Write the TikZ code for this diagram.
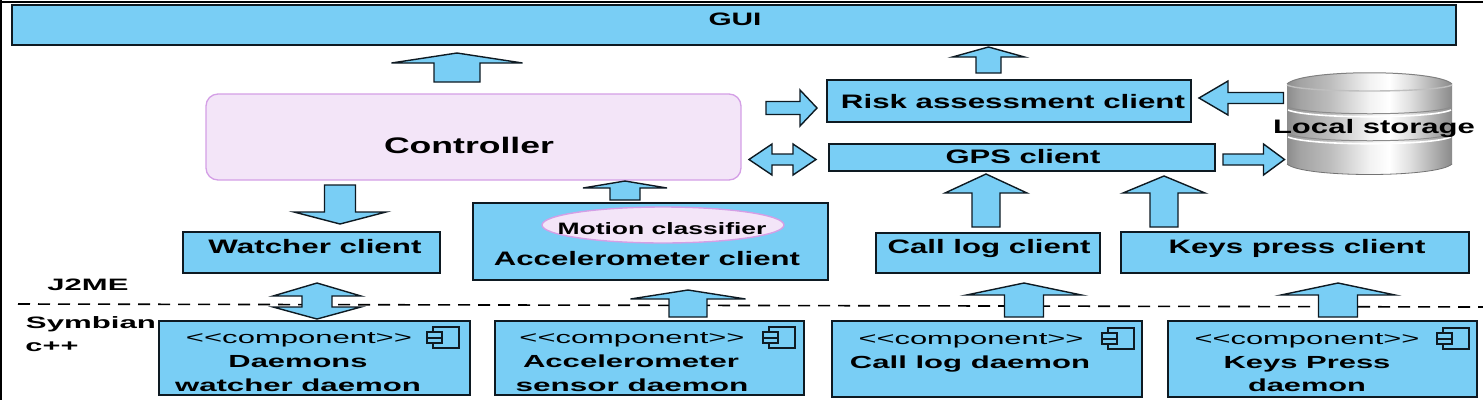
\documentclass[tikz,border=0pt]{standalone}
\usepackage{graphicx}
\usepackage{fontspec}
\setmainfont{Liberation Sans}
\usetikzlibrary{calc,shapes.geometric}
\definecolor{boxblue}{HTML}{79CEF5}
\definecolor{ink}{HTML}{0E1A22}
\definecolor{ctrlfill}{HTML}{F3E5F8}
\definecolor{ctrledge}{HTML}{D49FE6}
\pgfdeclarehorizontalshading{metal}{100bp}{color(0bp)=(black!42);color(25bp)=(black!45);color(29bp)=(black!36);color(38bp)=(black!26);color(50bp)=(black!5);color(56bp)=(white);color(62bp)=(black!12);color(69bp)=(black!30);color(75bp)=(black!46);color(100bp)=(black!46)}
\tikzset{
  boxstyle/.style={draw=ink,fill=boxblue,line width=1.3pt,inner sep=0pt,outer sep=0pt},
  ctrlstyle/.style={draw=ctrledge,fill=ctrlfill,line width=1.3pt,rounded corners=12pt,inner sep=0pt,outer sep=0pt},
  ovalstyle/.style={ellipse,draw=ctrledge,fill=ctrlfill,line width=1.4pt,inner sep=0pt,outer sep=0pt},
  hiddenstyle/.style={inner sep=0pt,outer sep=0pt},
  blockstyle/.style={draw=ink,fill=boxblue,line width=1.4pt,line join=miter},
  labelstyle/.style={inner sep=0pt,outer sep=0pt,anchor=base,text=black},
  iconstyle/.style={draw=ink,line width=1.1pt,fill=boxblue},
  dashstyle/.style={draw=black,line width=1.6pt,dash pattern=on 12pt off 8pt}
}
\newcommand\bx[6]{\node[#1,minimum width={(#5-#3)*1pt},minimum height={(#6-#4)*1pt}] (#2) at ({(#3+#5)/2},{(#4+#6)/2}) {};}
\newcommand\lb[6]{\node[labelstyle] (#1) at (#2,#3) {\resizebox{#4pt}{\height}{\fontsize{#5}{#5}\selectfont\bfseries #6}};}
\newcommand\lr[6]{\node[labelstyle] (#1) at (#2,#3) {\resizebox{#4pt}{\height}{\fontsize{#5}{#5}\selectfont #6}};}
\newcommand\blockar[5]{\coordinate (h) at ($(#2)!#3pt!(#1)$);
  \draw[blockstyle] ($(#1)!#5pt!90:(#2)$) -- ($(h)!#5pt!90:(#2)$) -- ($(h)!#4pt!90:(#2)$) -- (#2) -- ($(h)!#4pt!-90:(#2)$) -- ($(h)!#5pt!-90:(#2)$) -- ($(#1)!#5pt!-90:(#2)$) -- cycle;}
\newcommand\dblockar[6]{\coordinate (h) at ($(#2)!#3pt!(#1)$);\coordinate (k) at ($(#1)!#4pt!(#2)$);
  \draw[blockstyle] (#1) -- ($(k)!#5pt!90:(#2)$) -- ($(k)!#6pt!90:(#2)$) -- ($(h)!#6pt!90:(#2)$) -- ($(h)!#5pt!90:(#2)$) -- (#2) -- ($(h)!#5pt!-90:(#2)$) -- ($(h)!#6pt!-90:(#2)$) -- ($(k)!#6pt!-90:(#2)$) -- ($(k)!#5pt!-90:(#2)$) -- cycle;}
\newcommand\vblock[8]{\coordinate (s) at ($(#1,0 |- #2)+(0,#3)$);\coordinate (t) at ($(#1,0 |- #4)+(0,#5)$);\blockar{s}{t}{#6}{#7}{#8}}
\newcommand\hblock[8]{\coordinate (s) at ($(#2 |- 0,#1)+(#3,0)$);\coordinate (t) at ($(#4 |- 0,#1)+(#5,0)$);\blockar{s}{t}{#6}{#7}{#8}}
\newcommand\cicon[2]{\draw[iconstyle,fill=none] (#1+6,#2) rectangle (#1+32,#2+21);
  \draw[iconstyle] (#1,#2+5) rectangle (#1+15,#2+11);\draw[iconstyle] (#1,#2+11) rectangle (#1+15,#2+16);}
\newcommand\comp{<{}<component>{}>}
\begin{document}
\begin{tikzpicture}[x=1pt,y=-1pt]
\useasboundingbox (0,0) rectangle (1483,400);
\fill[white] (0,0) rectangle (1483,400);
% frame
\coordinate (frameA) at (0,2); \coordinate (frameB) at (1483,2); \coordinate (frameC) at (1,400); \coordinate (frameD) at (1,0);
\draw[black,line width=2.4pt] (frameA) -- (frameB);
\draw[black,line width=2pt] (frameD) -- (frameC);
% dashed boundary
\coordinate (dashL) at (18,304); \coordinate (dashR) at (1483,307);
\draw[dashstyle] (dashL) -- (dashR);
% storage
\node[hiddenstyle,minimum width=167pt,minimum height=102pt] (store) at (1369,124) {};
\shade[shading=metal] (1287,84) -- (1287,164) .. controls (1302,178) and (1437,178) .. (1452,164) -- (1452,84) .. controls (1437,69) and (1302,69) .. (1287,84) -- cycle;
\draw[black!50,line width=1pt] (1287,84) .. controls (1302,69) and (1437,69) .. (1452,84);
\draw[white!75!black,line width=1.4pt] (1287,85) .. controls (1302,93) and (1437,93) .. (1452,85);
\draw[black!45,line width=1pt] (1288,107) .. controls (1310,116) and (1430,116) .. (1451,107);
\draw[white,line width=1.6pt] (1288,110) .. controls (1310,119) and (1430,119) .. (1451,110);
\draw[black!45,line width=1pt] (1288,134) .. controls (1310,143) and (1430,143) .. (1451,134);
\draw[white,line width=1.6pt] (1288,137) .. controls (1310,146) and (1430,146) .. (1451,137);
\draw[black!55,line width=.8pt] (1287,164) .. controls (1302,178) and (1437,178) .. (1452,164);
% boxes
\bx{boxstyle}{gui}{12}{5}{1456}{45}
\bx{ctrlstyle}{ctrl}{206}{94}{741}{180}
\bx{boxstyle}{risk}{827}{80}{1191}{122}
\bx{boxstyle}{gps}{829}{144}{1215}{171}
\bx{boxstyle}{watcher}{183}{232}{440}{273}
\bx{boxstyle}{accel}{473}{203}{828}{280}
\bx{ovalstyle}{motion}{542}{207}{784}{243}
\bx{boxstyle}{call}{876}{233}{1100}{273}
\bx{boxstyle}{keys}{1121}{232}{1469}{273}
\bx{boxstyle}{dwatch}{159}{321}{470}{395}
\bx{boxstyle}{daccel}{495}{321}{804}{395}
\bx{boxstyle}{dcall}{832}{321}{1142}{397}
\bx{boxstyle}{dkeys}{1168}{321}{1477}{397}
% arrows
\vblock{457}{ctrl.north}{-12}{gui.south}{8}{10}{65.5}{23}
\vblock{988.5}{risk.north}{-7}{gui.south}{2}{10}{36}{12.5}
\vblock{340}{ctrl.south}{5}{watcher.north}{-8}{12}{46}{15.5}
\vblock{625}{accel.north}{-3}{ctrl.south}{1}{7}{42}{15}
\vblock{986}{call.north}{-6}{gps.south}{3}{19}{41}{14}
\vblock{1164}{keys.north}{-5}{gps.south}{5}{17}{41}{14}
\vblock{688}{daccel.north}{-4}{accel.south}{10}{9}{57.5}{19}
\vblock{1024}{dcall.north}{-4}{call.south}{10}{12}{57.5}{19.5}
\vblock{1338}{dkeys.north}{-4}{keys.south}{10}{12}{57}{19.5}
\coordinate (wa) at ($(317,0 |- watcher.south)+(0,10)$);\coordinate (wb) at ($(317,0 |- dwatch.north)+(0,-2)$);
\dblockar{wa}{wb}{12}{13}{44}{15}
\hblock{108}{ctrl.east}{25}{risk.west}{-10}{17}{18}{6.5}
\hblock{98}{store.west}{-2}{risk.east}{8}{29}{17}{5.5}
\coordinate (ga) at ($(ctrl.east |- 0,159.5)+(8,0)$);\coordinate (gb) at ($(gps.west |- 0,159.5)+(-13,0)$);
\dblockar{ga}{gb}{23}{23}{15.5}{5.5}
\hblock{159.5}{gps.east}{8}{store.west}{-1}{21}{15.5}{5.5}
% component icons
\cicon{427}{327}
\cicon{763}{327}
\cicon{1102}{328}
\cicon{1437}{328}
% labels
\lb{tgui}{735}{25}{53}{18}{GUI}
\lb{tctrl}{469}{153}{170}{22.5}{Controller}
\lb{trisk}{1013}{108}{344}{19.5}{Risk assessment client}
\lb{tgps}{1023}{163}{155}{19.5}{GPS client}
\lb{tstore}{1374}{133}{202}{19.5}{Local storage}
\lb{twatch}{315}{253}{213}{19.5}{Watcher client}
\lb{tmotion}{662}{234}{209}{16.5}{Motion classifier}
\lb{taccel}{647}{265}{306}{19.5}{Accelerometer client}
\lb{tcall}{989}{253}{203}{19.5}{Call log client}
\lb{tkeys}{1297}{253}{257}{19.5}{Keys press client}
\lb{tj}{88}{290}{81}{16.5}{J2ME}
\lb{tsym}{91}{328}{130}{16.5}{Symbian}
\lb{tcpp}{52}{351}{53}{16.5}{c++}
\lr{c1}{299}{343}{226}{17}{\comp}
\lb{d1a}{298}{367}{139}{17.5}{Daemons}
\lb{d1b}{298}{391}{246}{17.5}{watcher daemon}
\lr{c2}{632}{343}{225}{17}{\comp}
\lb{d2a}{631}{367}{216}{17.5}{Accelerometer}
\lb{d2b}{632}{391}{233}{17.5}{sensor daemon}
\lr{c3}{971}{344}{225}{17}{\comp}
\lb{d3a}{970}{368}{240}{17.5}{Call log daemon}
\lr{c4}{1307}{344}{225}{17}{\comp}
\lb{d4a}{1307}{368}{167}{17.5}{Keys Press}
\lb{d4b}{1307}{391}{118}{17.5}{daemon}
\end{tikzpicture}
\end{document}
